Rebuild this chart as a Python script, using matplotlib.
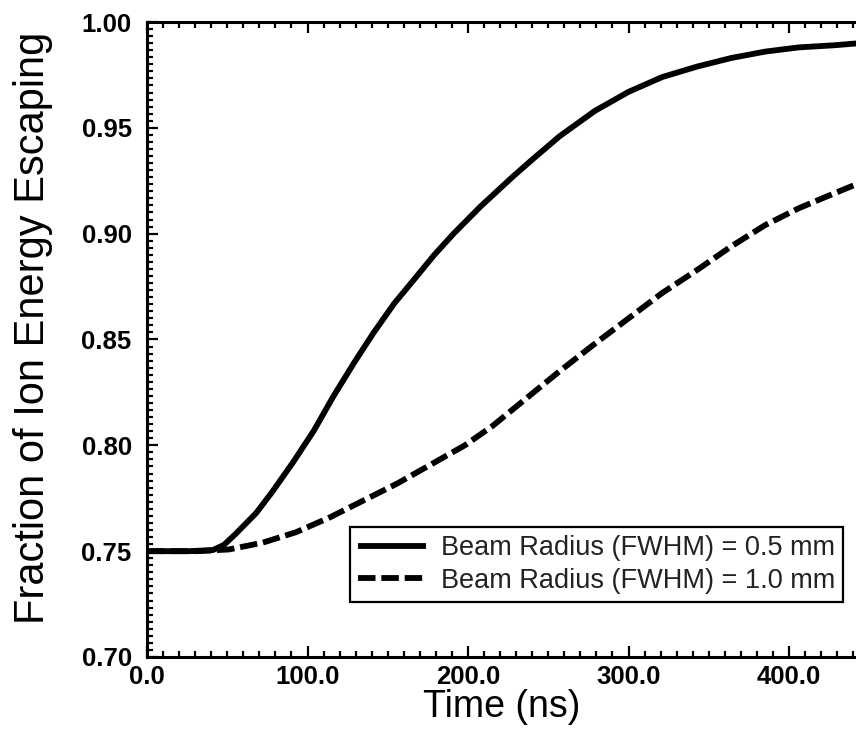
import matplotlib
matplotlib.use("Agg")
import matplotlib.pyplot as plt
import numpy as np
from matplotlib.ticker import MultipleLocator, AutoMinorLocator, FormatStrFormatter

# values
t_05 = [0, 26, 41, 48, 55, 68, 78, 91, 104, 116, 129, 141, 154, 166, 179, 191, 208,
        228, 240, 257, 279, 300, 321, 343, 364, 385, 406, 428, 444]
f_05 = [0.750, 0.750, 0.7505, 0.753, 0.758, 0.768, 0.778, 0.792, 0.807, 0.823, 0.839,
        0.853, 0.867, 0.878, 0.890, 0.900, 0.913, 0.927, 0.935, 0.946, 0.958, 0.967,
        0.974, 0.979, 0.983, 0.986, 0.988, 0.989, 0.990]

t_10 = [0, 31, 51, 72, 93, 114, 135, 156, 177, 198, 215, 236, 257, 279, 300, 321,
        343, 364, 385, 406, 428, 444]
f_10 = [0.750, 0.750, 0.7508, 0.754, 0.759, 0.766, 0.774, 0.782, 0.791, 0.800, 0.809,
        0.822, 0.835, 0.848, 0.860, 0.872, 0.883, 0.894, 0.904, 0.912, 0.919, 0.924]

labels = ["Beam Radius (FWHM) = 0.5 mm", "Beam Radius (FWHM) = 1.0 mm"]

plt.rcParams['font.family'] = ['Liberation Sans', 'DejaVu Sans']

W, H = 856, 735
fig = plt.figure(figsize=(W / 100, H / 100), dpi=100)
ax = fig.add_axes([147 / W, 78 / H, (W - 147) / W, (657 - 22) / H])

ax.plot(t_05, f_05, color='black', lw=4.2, solid_capstyle='butt',
        solid_joinstyle='round', label=labels[0])
ax.plot(t_10, f_10, color='black', lw=4.2, dashes=(3, 1), label=labels[1])

ax.set_xlim(0, 441.7)
ax.set_ylim(0.70, 1.00)

ax.xaxis.set_major_locator(MultipleLocator(100))
ax.xaxis.set_minor_locator(MultipleLocator(10))
ax.yaxis.set_major_locator(MultipleLocator(0.05))
ax.yaxis.set_minor_locator(AutoMinorLocator(15))
ax.xaxis.set_major_formatter(FormatStrFormatter('%.1f'))
ax.yaxis.set_major_formatter(FormatStrFormatter('%.2f'))

for s in ['left', 'bottom', 'top']:
    ax.spines[s].set_linewidth(2.2)
ax.spines['right'].set_visible(False)

ax.tick_params(which='both', direction='in', top=True, right=False, width=1.6)
ax.tick_params(which='major', length=8)
ax.tick_params(which='minor', length=4)
ax.tick_params(axis='x', which='major', pad=6)
ax.tick_params(axis='y', which='major', pad=11)
for lab in ax.get_xticklabels() + ax.get_yticklabels():
    lab.set_fontsize(18.5)
    lab.set_fontweight('bold')

ax.set_xlabel("Time (ns)", fontsize=27, labelpad=0)
ax.set_ylabel("Fraction of Ion Energy Escaping", fontsize=30)
ax.yaxis.set_label_coords(-0.133, 0.518)

leg = ax.legend(loc='lower right', bbox_to_anchor=(843 / W, 133 / H),
                bbox_transform=fig.transFigure, borderaxespad=0,
                fontsize=19.5, handlelength=2.5, handletextpad=0.55,
                labelspacing=0.25, borderpad=0.3, fancybox=False,
                framealpha=1, edgecolor='black')
leg.get_frame().set_linewidth(1.6)
for txt in leg.get_texts():
    txt.set_color('#222222')

fig.savefig("out.png", dpi=100)
